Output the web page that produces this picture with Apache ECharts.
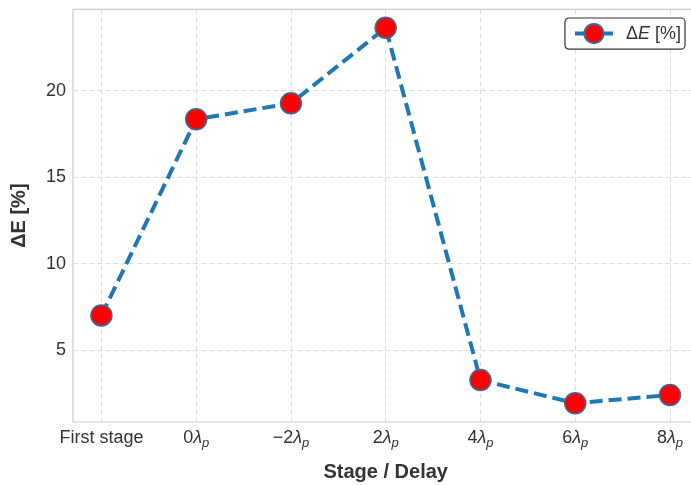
<!DOCTYPE html>
<html>
<head>
<meta charset="utf-8">
<script src="https://cdn.jsdelivr.net/npm/echarts@6/dist/echarts.min.js"></script>
<style>
  html, body { margin: 0; padding: 0; background: #ffffff; }
  #chart { width: 691px; height: 485px; }
</style>
</head>
<body>
<div id="chart"></div>
<script>
// Energy change per stage / delay setting
const stages = ['First stage', '0λp', '−2λp', '2λp', '4λp', '6λp', '8λp'];
const deltaE = [7.0, 18.35, 19.27, 23.64, 3.26, 1.92, 2.40];
const yTicks = [5, 10, 15, 20];

const FONT = '"Liberation Sans", Arial, sans-serif';
const TXT = '#333333';

// Turn "2λp" into rich text: upright number, italic λ, italic subscript p
function stageLabel(s) {
  const k = s.indexOf('λp');
  if (k < 0) return '{n|' + s + '}';
  const head = s.slice(0, k);
  return (head ? '{n|' + head + '}' : '') + '{l|λ}{s|p}';
}

const xIdx = stages.map((_, i) => i);
const seriesData = deltaE.map((v, i) => [xIdx[i], v]);

const chart = echarts.init(document.getElementById('chart'), null, { renderer: 'canvas' });

chart.setOption({
  backgroundColor: '#ffffff',
  animation: false,
  grid: {
    left: 73, top: 9.3, width: 625.4, height: 412.7,
    outerBoundsMode: 'none',
    containLabel: false,
    show: true, borderColor: '#cccccc', borderWidth: 1.2, backgroundColor: 'transparent'
  },
  legend: {
    right: 6, top: 18,
    orient: 'horizontal',
    itemWidth: 38, itemHeight: 24, itemGap: 10,
    padding: [5, 4, 5, 8],
    borderColor: '#333333', borderWidth: 1.2, borderRadius: 4,
    backgroundColor: '#ffffff',
    lineStyle: { type: 'solid', width: 4 },
    formatter: () => '{n|Δ}{i|E}{n| [%]}',
    textStyle: {
      padding: [0, 0, 0, 8],
      rich: {
        n: { fontFamily: FONT, fontSize: 18, color: TXT },
        i: { fontFamily: FONT, fontSize: 18, color: TXT, fontStyle: 'italic' }
      }
    },
    data: ['ΔE']
  },
  xAxis: {
    type: 'value',
    min: -0.3, max: 6.3,
    name: 'Stage / Delay',
    nameLocation: 'middle',
    nameGap: 40,
    nameTextStyle: { fontFamily: FONT, fontSize: 20, fontWeight: 'bold', color: TXT },
    axisLine: { show: false },
    axisTick: { show: false, customValues: xIdx },
    axisLabel: {
      customValues: xIdx,
      margin: 7,
      formatter: v => stageLabel(stages[Math.round(v)]),
      rich: {
        n: { fontFamily: FONT, fontSize: 18, color: TXT, verticalAlign: 'bottom', padding: [0, 0, 3, 0] },
        l: { fontFamily: FONT, fontSize: 18, color: TXT, fontStyle: 'italic', verticalAlign: 'bottom', padding: [0, 0, 3, 0] },
        s: { fontFamily: FONT, fontSize: 13, color: TXT, fontStyle: 'italic', verticalAlign: 'bottom', padding: [0, 0, 0, 0] }
      }
    },
    splitLine: { show: true, lineStyle: { color: '#dddddd', width: 1, type: [5, 3] } }
  },
  yAxis: {
    type: 'value',
    min: 0.835, max: 24.71,
    name: 'ΔE [%]',
    nameLocation: 'middle',
    nameGap: 44,
    nameTextStyle: { fontFamily: FONT, fontSize: 20, fontWeight: 'bold', color: TXT },
    axisLine: { show: false },
    axisTick: { show: false, customValues: yTicks },
    axisLabel: {
      customValues: yTicks,
      margin: 7,
      fontFamily: FONT, fontSize: 18, color: TXT
    },
    splitLine: { show: true, lineStyle: { color: '#dddddd', width: 1, type: [5, 3] } }
  },
  series: [{
    name: 'ΔE',
    type: 'line',
    data: seriesData,
    symbol: 'circle',
    symbolSize: 21,
    lineStyle: { color: '#1f77b4', width: 4, type: [13, 6] },
    itemStyle: { color: '#ff0000', borderColor: '#3b6a9a', borderWidth: 1.5 },
    z: 3
  }]
});
</script>
</body>
</html>
